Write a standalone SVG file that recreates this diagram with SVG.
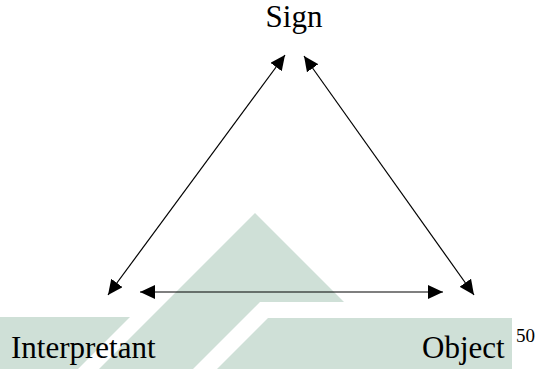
<svg xmlns="http://www.w3.org/2000/svg" width="538" height="369" viewBox="0 0 538 369">
  <style>
    .lbl { font-family: "Liberation Serif", "Times New Roman", serif; font-size: 31px; fill: #000; }
    .sup { font-family: "Liberation Serif", "Times New Roman", serif; font-size: 19px; fill: #000; }
    .wm { fill: #cfe0d7; stroke: none; }
    .conn { stroke: #000; stroke-width: 1.2; fill: none; marker-start: url(#ah); marker-end: url(#ah); }
  </style>
  <defs>
    <marker id="ah" markerUnits="userSpaceOnUse" markerWidth="16" markerHeight="14" refX="15" refY="7" orient="auto-start-reverse" viewBox="0 0 16 14">
      <path d="M0,0 L15,7 L0,14 z" fill="#000"/>
    </marker>
  </defs>
  <rect width="538" height="369" fill="#fff"/>
  <g id="watermark">
    <polygon class="wm" points="255,213 344,302 260,302 193,369 99,369"/>
    <polygon class="wm" points="0,317 130,317 78,369 0,369"/>
    <polygon class="wm" points="268,318 512,318 512,369 217,369"/>
  </g>
  <g id="connectors">
    <line class="conn" x1="285" y1="55" x2="108" y2="295"/>
    <line class="conn" x1="304" y1="56" x2="474" y2="295"/>
    <line class="conn" x1="140" y1="292" x2="443" y2="292"/>
  </g>
  <g id="sign">
    <text class="lbl" x="294" y="27" text-anchor="middle">Sign</text>
  </g>
  <g id="interpretant">
    <text class="lbl" x="11" y="358">Interpretant</text>
  </g>
  <g id="object">
    <text class="lbl" x="422" y="358">Object</text>
  </g>
  <g id="footnote">
    <text class="sup" x="516" y="342">50</text>
  </g>
</svg>
